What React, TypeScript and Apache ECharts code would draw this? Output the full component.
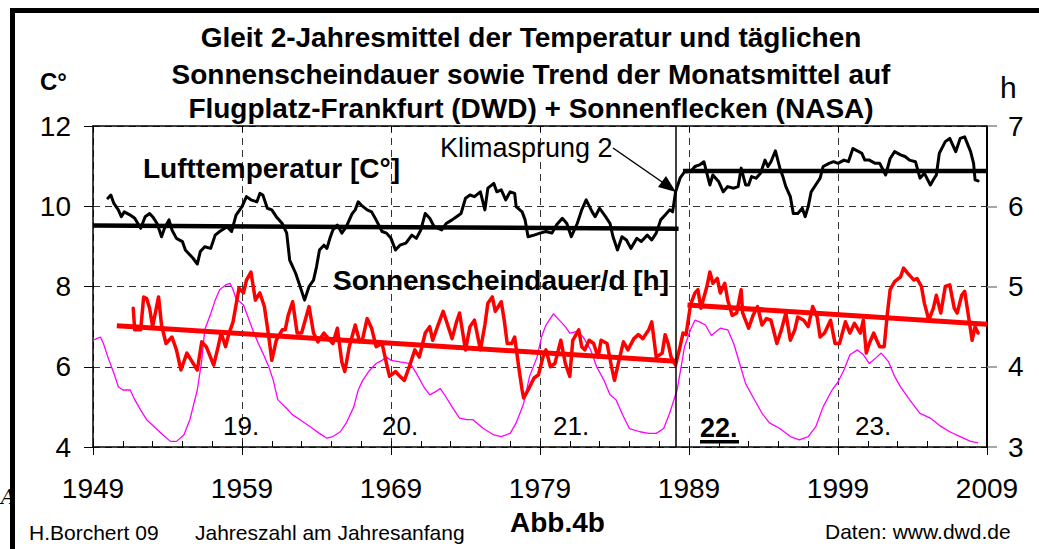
import { useEffect, useRef } from "react";
import * as echarts from "echarts";

// Gleitendes 2-Jahresmittel Lufttemperatur [°C] (year, value)
const tempData: [number, number][] = [
  [1950.0, 10.2], [1950.2, 10.28], [1950.4, 10.07], [1950.7, 9.91], [1950.9, 9.74], [1951.1, 9.86], [1951.5, 9.78], [1951.8, 9.7],
  [1952.2, 9.45], [1952.5, 9.74], [1952.8, 9.82], [1953.0, 9.74], [1953.3, 9.57], [1953.6, 9.24], [1953.8, 9.45], [1954.1, 9.66],
  [1954.3, 9.41], [1954.6, 9.2], [1955.0, 9.12], [1955.2, 8.91], [1955.4, 8.83], [1955.7, 8.71], [1956.0, 8.56], [1956.2, 8.87],
  [1956.5, 8.99], [1956.9, 8.95], [1957.2, 9.28], [1957.5, 9.37], [1958.0, 9.49], [1958.3, 9.37], [1958.6, 9.78], [1959.0, 9.99],
  [1959.3, 10.24], [1959.6, 10.16], [1960.0, 10.11], [1960.2, 10.32], [1960.4, 10.28], [1960.7, 9.95], [1961.0, 9.91], [1961.3, 9.74],
  [1961.7, 9.57], [1962.0, 9.33], [1962.2, 8.66], [1962.6, 8.33], [1962.9, 8.0], [1963.2, 7.66], [1963.5, 8.0], [1963.8, 8.16],
  [1964.0, 8.49], [1964.2, 8.91], [1964.5, 9.03], [1964.7, 8.95], [1964.9, 9.2], [1965.1, 9.41], [1965.4, 9.53], [1965.7, 9.33],
  [1966.0, 9.49], [1966.4, 9.82], [1966.6, 9.91], [1966.8, 10.11], [1967.0, 10.03], [1967.4, 9.91], [1967.7, 9.86], [1968.0, 9.66],
  [1968.4, 9.37], [1968.7, 9.33], [1969.0, 9.2], [1969.3, 8.91], [1969.6, 9.03], [1970.0, 9.08], [1970.4, 9.28], [1970.7, 9.2],
  [1971.0, 9.41], [1971.3, 9.82], [1971.6, 9.7], [1971.9, 9.49], [1972.4, 9.41], [1972.7, 9.57], [1973.1, 9.66], [1973.4, 9.74],
  [1973.7, 9.82], [1974.0, 10.2], [1974.3, 10.28], [1974.6, 10.24], [1975.0, 10.36], [1975.3, 9.91], [1975.5, 10.45], [1975.9, 10.57],
  [1976.1, 10.36], [1976.4, 10.41], [1976.7, 10.16], [1977.0, 10.36], [1977.3, 10.32], [1977.4, 9.99], [1977.8, 9.86], [1978.0, 9.66],
  [1978.2, 9.24], [1978.6, 9.28], [1979.0, 9.33], [1979.4, 9.37], [1979.8, 9.33], [1980.1, 9.53], [1980.5, 9.7], [1980.8, 9.57],
  [1981.1, 9.24], [1981.5, 9.57], [1981.8, 9.91], [1982.1, 10.16], [1982.5, 9.86], [1982.7, 9.74], [1983.0, 9.95], [1983.4, 9.74],
  [1983.7, 9.57], [1983.9, 9.24], [1984.2, 8.91], [1984.5, 9.24], [1984.8, 9.16], [1985.1, 8.95], [1985.5, 9.2], [1985.8, 9.12],
  [1986.2, 9.28], [1986.5, 9.16], [1986.8, 9.33], [1987.1, 9.66], [1987.4, 9.78], [1987.7, 9.91], [1987.9, 9.86], [1988.1, 10.36],
  [1988.4, 10.7], [1988.7, 10.86], [1989.1, 10.86], [1989.4, 10.99], [1989.7, 11.03], [1990.0, 11.11], [1990.2, 10.82], [1990.4, 10.53],
  [1990.6, 10.78], [1991.0, 10.61], [1991.3, 10.36], [1991.6, 10.49], [1992.0, 10.45], [1992.3, 10.49], [1992.5, 10.95], [1992.8, 10.53],
  [1993.0, 10.53], [1993.2, 10.74], [1993.5, 10.7], [1993.8, 10.82], [1994.1, 11.15], [1994.3, 10.99], [1994.5, 11.11], [1994.8, 11.38],
  [1995.1, 10.95], [1995.3, 10.74], [1995.5, 10.49], [1995.8, 10.24], [1996.0, 9.82], [1996.3, 9.82], [1996.6, 9.95], [1996.8, 9.74],
  [1997.0, 9.99], [1997.2, 10.36], [1997.5, 10.53], [1997.8, 10.7], [1998.0, 10.99], [1998.4, 11.07], [1998.7, 11.11], [1999.0, 11.07],
  [1999.4, 11.15], [1999.7, 11.11], [2000.0, 11.44], [2000.2, 11.4], [2000.6, 11.32], [2000.8, 11.15], [2001.1, 11.15], [2001.5, 11.07],
  [2001.8, 11.07], [2002.2, 10.78], [2002.5, 11.19], [2002.8, 11.36], [2003.2, 11.28], [2003.5, 11.24], [2003.8, 11.15], [2004.2, 11.11],
  [2004.5, 10.7], [2004.8, 10.82], [2005.2, 10.53], [2005.4, 10.66], [2005.6, 10.78], [2005.8, 11.32], [2006.2, 11.61], [2006.5, 11.69],
  [2006.9, 11.36], [2007.2, 11.69], [2007.5, 11.73], [2007.9, 11.36], [2008.1, 11.07], [2008.2, 10.66], [2008.4, 10.63],
];

// Trend der Temperatur vor / nach dem Klimasprung
const tempTrendBefore: [number, number][] = [[1949, 9.52], [1988.3, 9.44]];
const tempTrendAfter: [number, number][] = [[1988.6, 10.88], [2009, 10.88]];

// Sonnenscheindauer pro Tag [h]
const sunData: [number, number][] = [
  [1951.7, 4.73], [1951.8, 4.46], [1952.2, 4.46], [1952.4, 4.87], [1952.6, 4.85], [1952.8, 4.73], [1953.0, 4.5], [1953.4, 4.87],
  [1953.6, 4.52], [1953.9, 4.29], [1954.3, 4.37], [1954.6, 4.21], [1954.9, 3.96], [1955.3, 4.17], [1955.6, 4.08], [1956.0, 3.96],
  [1956.3, 4.31], [1956.6, 4.25], [1957.1, 4.02], [1957.4, 4.25], [1957.6, 4.42], [1957.9, 4.25], [1958.1, 4.4], [1958.4, 4.56],
  [1958.8, 4.98], [1959.1, 4.92], [1959.3, 5.08], [1959.6, 5.18], [1959.9, 4.83], [1960.2, 4.92], [1960.5, 4.75], [1960.8, 4.37],
  [1961.0, 4.08], [1961.3, 4.33], [1961.7, 4.46], [1961.9, 4.46], [1962.1, 4.64], [1962.4, 4.81], [1962.7, 4.42], [1963.0, 4.42],
  [1963.5, 4.75], [1963.8, 4.42], [1964.1, 4.31], [1964.5, 4.42], [1964.8, 4.35], [1965.1, 4.29], [1965.4, 4.48], [1965.7, 4.06],
  [1965.9, 3.94], [1966.2, 4.25], [1966.6, 4.52], [1966.9, 4.31], [1967.1, 4.35], [1967.4, 4.6], [1967.7, 4.48], [1968.0, 4.25],
  [1968.4, 4.29], [1968.7, 4.04], [1968.9, 3.88], [1969.3, 3.94], [1969.6, 3.88], [1969.9, 3.83], [1970.3, 4.04], [1970.6, 4.21],
  [1970.9, 4.12], [1971.3, 4.42], [1971.6, 4.5], [1971.8, 4.33], [1972.2, 4.54], [1972.5, 4.69], [1972.7, 4.58], [1973.1, 4.35],
  [1973.4, 4.56], [1973.6, 4.67], [1974.0, 4.21], [1974.3, 4.5], [1974.6, 4.58], [1975.0, 4.21], [1975.3, 4.52], [1975.5, 4.79],
  [1975.8, 4.87], [1976.0, 4.69], [1976.4, 4.81], [1976.6, 4.58], [1976.8, 4.29], [1977.1, 4.29], [1977.3, 4.37], [1977.6, 3.96],
  [1977.8, 3.71], [1977.9, 3.61], [1978.2, 3.71], [1978.6, 3.86], [1978.9, 3.9], [1979.2, 4.12], [1979.4, 4.21], [1979.7, 4.0],
  [1980.0, 4.04], [1980.4, 4.33], [1980.7, 4.04], [1981.0, 3.88], [1981.2, 4.33], [1981.6, 4.46], [1981.8, 4.25], [1982.0, 4.21],
  [1982.3, 4.33], [1982.6, 4.29], [1982.9, 4.12], [1983.1, 4.33], [1983.5, 4.29], [1983.8, 4.0], [1984.0, 3.83], [1984.3, 4.08],
  [1984.6, 4.31], [1984.9, 4.21], [1985.3, 4.35], [1985.6, 4.4], [1985.9, 4.35], [1986.3, 4.46], [1986.5, 4.56], [1986.8, 4.12],
  [1987.2, 4.17], [1987.4, 4.4], [1987.6, 4.29], [1987.8, 4.12], [1988.1, 4.02], [1988.4, 4.25], [1988.6, 4.42], [1988.8, 4.4],
  [1989.1, 4.77], [1989.4, 4.92], [1989.6, 4.96], [1989.8, 4.73], [1990.2, 5.0], [1990.4, 5.18], [1990.6, 5.04], [1990.9, 5.1],
  [1991.1, 4.92], [1991.4, 5.04], [1991.6, 4.83], [1991.9, 4.64], [1992.2, 4.67], [1992.5, 4.96], [1992.6, 4.67], [1993.0, 4.48],
  [1993.3, 4.64], [1993.6, 4.75], [1993.9, 4.52], [1994.2, 4.6], [1994.5, 4.58], [1994.9, 4.29], [1995.2, 4.46], [1995.5, 4.67],
  [1995.8, 4.33], [1996.1, 4.46], [1996.3, 4.62], [1996.7, 4.58], [1997.0, 4.5], [1997.3, 4.75], [1997.6, 4.62], [1997.8, 4.37],
  [1998.1, 4.42], [1998.5, 4.58], [1998.8, 4.29], [1999.1, 4.29], [1999.5, 4.56], [1999.8, 4.42], [2000.1, 4.54], [2000.5, 4.42],
  [2000.7, 4.58], [2000.9, 4.17], [2001.1, 4.29], [2001.4, 4.42], [2001.6, 4.33], [2001.8, 4.25], [2002.1, 4.25], [2002.3, 4.64],
  [2002.5, 4.96], [2002.8, 5.06], [2003.2, 5.12], [2003.4, 5.23], [2003.7, 5.16], [2004.1, 5.08], [2004.3, 5.1], [2004.6, 5.0],
  [2004.8, 4.79], [2005.1, 4.58], [2005.4, 4.73], [2005.6, 4.89], [2005.9, 4.67], [2006.2, 5.0], [2006.5, 5.02], [2006.8, 4.73],
  [2007.0, 4.67], [2007.3, 4.89], [2007.5, 4.94], [2007.8, 4.58], [2008.0, 4.33], [2008.2, 4.5], [2008.4, 4.42],
];

// Trend der Sonnenscheindauer vor / nach dem Klimasprung
const sunTrendBefore: [number, number][] = [[1950.6, 4.51], [1988.1, 4.07]];
const sunTrendAfter: [number, number][] = [[1988.9, 4.77], [2009, 4.53]];

// Sonnenflecken (geglättete Relativzahl, NASA)
const spotData: [number, number][] = [
  [1949.0, 133], [1949.5, 137], [1949.7, 129], [1950.0, 112], [1950.4, 92], [1950.7, 75], [1951.0, 71], [1951.5, 71],
  [1951.8, 59], [1952.2, 46], [1952.6, 34], [1953.0, 27], [1953.7, 15], [1954.2, 7], [1954.6, 7], [1955.1, 15],
  [1955.5, 34], [1956.0, 71], [1956.3, 108], [1956.5, 146], [1956.9, 166], [1957.2, 183], [1957.5, 196], [1957.9, 202],
  [1958.2, 204], [1958.4, 196], [1958.6, 185], [1959.1, 177], [1959.4, 162], [1959.8, 142], [1960.1, 129], [1960.4, 117],
  [1960.8, 100], [1961.1, 83], [1961.4, 59], [1962.0, 48], [1962.4, 40], [1962.9, 34], [1963.6, 25], [1964.2, 17],
  [1964.7, 11], [1965.1, 13], [1965.6, 19], [1966.0, 30], [1966.5, 50], [1966.8, 71], [1967.1, 83], [1967.5, 94],
  [1968.0, 104], [1968.4, 108], [1968.7, 112], [1969.0, 108], [1969.6, 106], [1970.3, 104], [1970.7, 92], [1971.2, 75],
  [1971.6, 65], [1972.0, 69], [1972.3, 73], [1972.7, 62], [1973.1, 50], [1973.6, 36], [1974.1, 34], [1974.5, 34],
  [1975.2, 23], [1975.9, 15], [1976.4, 13], [1977.0, 17], [1977.4, 30], [1977.9, 54], [1978.3, 88], [1978.8, 112],
  [1979.1, 137], [1979.4, 152], [1979.9, 166], [1980.2, 160], [1980.7, 150], [1981.0, 142], [1981.5, 144], [1981.9, 137],
  [1982.4, 121], [1982.8, 100], [1983.3, 83], [1983.7, 65], [1984.1, 59], [1984.6, 38], [1985.0, 23], [1985.7, 19],
  [1986.3, 17], [1986.8, 17], [1987.3, 23], [1987.7, 42], [1988.2, 71], [1988.4, 92], [1988.7, 125], [1989.1, 146],
  [1989.4, 158], [1989.7, 156], [1990.1, 152], [1990.5, 139], [1991.1, 148], [1991.6, 146], [1992.0, 129], [1992.4, 104],
  [1992.8, 79], [1993.3, 62], [1993.9, 42], [1994.4, 30], [1995.1, 23], [1995.8, 13], [1996.4, 9], [1997.0, 13],
  [1997.5, 25], [1998.0, 50], [1998.6, 71], [1999.0, 81], [1999.4, 96], [1999.8, 115], [2000.3, 121], [2000.7, 115],
  [2001.1, 104], [2001.6, 112], [2001.9, 117], [2002.4, 106], [2002.8, 88], [2003.2, 75], [2003.8, 59], [2004.5, 42],
  [2005.2, 36], [2005.8, 27], [2006.5, 19], [2007.2, 13], [2007.9, 7], [2008.4, 5],
];

// Jahr des Klimasprungs
const jumpYear = 1988.1;

const titleLines = [
  "Gleit 2-Jahresmittel der Temperatur und täglichen",
  "Sonnenscheindauer sowie Trend der Monatsmittel auf",
  "Flugplatz-Frankfurt (DWD) + Sonnenflecken (NASA)",
];
const cycleLabels = ["19.", "20.", "21.", "22.", "23."];

const FONT = "'Liberation Sans', Arial, Helvetica, sans-serif";

function txt(text: string, x: number, y: number, size: number, opts: any = {}) {
  const weight = opts.bold ? "bold " : "";
  const align = opts.align || "left";
  return {
    type: "text",
    z: 100,
    style: {
      text,
      x,
      y,
      font: `${opts.italic ? "italic " : ""}${weight}${size}px ${opts.family || FONT}`,
      fill: opts.color || "#000",
      textAlign: align,
      align,
      textVerticalAlign: "middle",
      verticalAlign: "middle",
    },
  };
}

export default function App() {
  const ref = useRef<HTMLDivElement>(null);

  useEffect(() => {
    if (!ref.current) return;
    const chart = echarts.init(ref.current, undefined, { renderer: "svg" });

    const axisLabelFont = { fontFamily: FONT, fontSize: 28, color: "#000" };
    const dashed = { type: [7, 5] as any, color: "#333", width: 1 };

    const option: any = {
      animation: false,
      backgroundColor: "#fff",
      grid: { left: 93, right: 52, top: 126, bottom: 102, containLabel: false },
      xAxis: [
        {
          type: "value",
          position: "bottom",
          min: 1949,
          max: 2009,
          interval: 10,
          axisLine: { show: true, onZero: false, lineStyle: { color: "#000", width: 1.5 } },
          axisTick: { show: true, inside: false, length: 8, lineStyle: { color: "#000", width: 1 } },
          axisLabel: { ...axisLabelFont, margin: 27, formatter: (v: number) => String(v) },
          splitLine: { show: true, lineStyle: dashed },
        },
        {
          type: "value",
          position: "bottom",
          min: 1949,
          max: 2009,
          interval: 2,
          axisLine: { show: false },
          axisTick: { show: true, inside: true, length: 6, lineStyle: { color: "#000", width: 1 } },
          axisLabel: { show: false },
          splitLine: { show: false },
        },
        {
          type: "value",
          position: "top",
          min: 1949,
          max: 2009,
          interval: 10,
          axisLine: { show: true, onZero: false, lineStyle: { color: "#000", width: 1.5 } },
          axisTick: { show: true, inside: true, length: 6, lineStyle: { color: "#000", width: 1 } },
          axisLabel: { show: false },
          splitLine: { show: false },
        },
      ],
      yAxis: [
        {
          type: "value",
          position: "left",
          min: 4,
          max: 12,
          interval: 2,
          axisLine: { show: true, onZero: false, lineStyle: { color: "#000", width: 1.5 } },
          axisTick: { show: true, inside: false, length: 9, lineStyle: { color: "#000", width: 1 } },
          axisLabel: { ...axisLabelFont, margin: 22 },
          splitLine: { show: true, lineStyle: dashed },
        },
        {
          type: "value",
          position: "right",
          min: 3,
          max: 7,
          interval: 1,
          axisLine: { show: true, onZero: false, lineStyle: { color: "#000", width: 2 } },
          axisTick: { show: true, inside: false, length: 10, lineStyle: { color: "#888", width: 1.5 } },
          axisLabel: { ...axisLabelFont, margin: 21 },
          splitLine: { show: false },
        },
        {
          type: "value",
          show: false,
          min: 0,
          max: 400,
          splitLine: { show: false },
        },
      ],
      series: [
        {
          name: "Sonnenflecken",
          type: "line",
          xAxisIndex: 0,
          yAxisIndex: 2,
          data: spotData,
          symbol: "none",
          lineStyle: { color: "#ff00ff", width: 1.3 },
          z: 2,
        },
        {
          name: "Sonnenscheindauer",
          type: "line",
          xAxisIndex: 0,
          yAxisIndex: 1,
          data: sunData,
          symbol: "none",
          lineStyle: { color: "#ff0000", width: 3.5, join: "round", cap: "round" },
          z: 3,
        },
        {
          name: "Trend Sonne vor",
          type: "line",
          xAxisIndex: 0,
          yAxisIndex: 1,
          data: sunTrendBefore,
          symbol: "none",
          lineStyle: { color: "#ff0000", width: 5 },
          z: 4,
        },
        {
          name: "Trend Sonne nach",
          type: "line",
          xAxisIndex: 0,
          yAxisIndex: 1,
          data: sunTrendAfter,
          symbol: "none",
          lineStyle: { color: "#ff0000", width: 5 },
          z: 4,
        },
        {
          name: "Lufttemperatur",
          type: "line",
          xAxisIndex: 0,
          yAxisIndex: 0,
          data: tempData,
          symbol: "none",
          lineStyle: { color: "#000", width: 3, join: "round", cap: "round" },
          z: 5,
          markLine: {
            silent: true,
            symbol: ["none", "none"],
            label: { show: false },
            lineStyle: { color: "#000", width: 1.5, type: "solid" },
            data: [{ xAxis: jumpYear }],
          },
        },
        {
          name: "Trend Temp vor",
          type: "line",
          xAxisIndex: 0,
          yAxisIndex: 0,
          data: tempTrendBefore,
          symbol: "none",
          lineStyle: { color: "#000", width: 4.5 },
          z: 6,
        },
        {
          name: "Trend Temp nach",
          type: "line",
          xAxisIndex: 0,
          yAxisIndex: 0,
          data: tempTrendAfter,
          symbol: "none",
          lineStyle: { color: "#000", width: 4.5 },
          z: 6,
        },
      ],
      graphic: [
        txt("A", 1, 497, 20, { italic: true, family: "'DejaVu Serif', serif" }),
        { type: "rect", z: 101, shape: { x: 10, y: 8, width: 1029, height: 5 }, style: { fill: "#000" } },
        { type: "rect", z: 101, shape: { x: 10, y: 8, width: 5, height: 541 }, style: { fill: "#000" } },
        txt(titleLines[0], 531, 37.5, 28, { bold: true, align: "center" }),
        txt(titleLines[1], 531, 74, 28, { bold: true, align: "center" }),
        txt(titleLines[2], 531, 108.5, 28, { bold: true, align: "center" }),
        txt("C°", 40, 81, 24, { bold: true }),
        txt("h", 1000, 87, 30),
        txt("Lufttemperatur [C°]", 143, 168, 28, { bold: true }),
        txt("Sonnenscheindauer/d [h]", 333, 280, 28, { bold: true }),
        txt("Klimasprung 2", 440, 148, 27),
        {
          type: "line",
          z: 100,
          shape: { x1: 613, y1: 148, x2: 665, y2: 184 },
          style: { stroke: "#000", lineWidth: 1.5 },
        },
        {
          type: "polygon",
          z: 100,
          shape: { points: [[676, 192], [658, 187], [666, 176]] },
          style: { fill: "#000" },
        },
        txt(cycleLabels[0], 223, 426, 26),
        txt(cycleLabels[1], 382, 426, 26),
        txt(cycleLabels[2], 553, 426, 26),
        txt(cycleLabels[3], 700, 427.5, 27, { bold: true }),
        { type: "rect", z: 100, shape: { x: 700, y: 440, width: 39, height: 3.5 }, style: { fill: "#000" } },
        txt(cycleLabels[4], 855, 426, 26),
        txt("H.Borchert 09", 29, 532, 21),
        txt("Jahreszahl am Jahresanfang", 195, 532, 21),
        txt("Abb.4b", 510, 522, 28, { bold: true }),
        txt("Daten: www.dwd.de", 825, 531, 21),
      ],
    };

    chart.setOption(option);
    return () => chart.dispose();
  }, []);

  return (
    <div
      ref={ref}
      style={{ position: "fixed", left: 0, top: 0, width: 1039, height: 549, background: "#fff" }}
    />
  );
}
